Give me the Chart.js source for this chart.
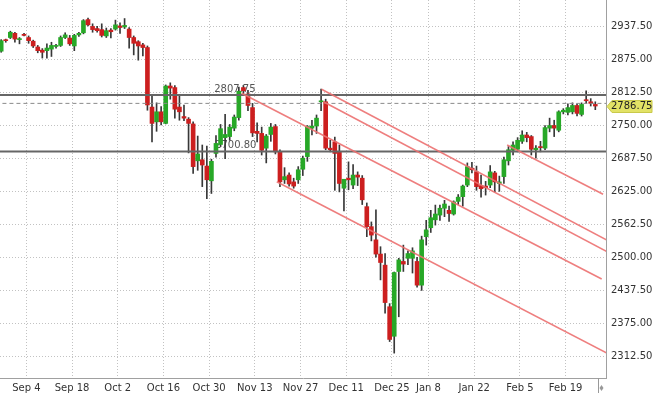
<!DOCTYPE html>
<html>
<head>
<meta charset="utf-8">
<script src="https://cdn.jsdelivr.net/npm/chart.js@4.4.0/dist/chart.umd.min.js"></script>
<style>
body { margin: 0; background: #fff; }
#wrap { width: 654px; height: 397px; position: relative; }
</style>
</head>
<body>
<div id="wrap"><canvas id="grafico"></canvas></div>
<script>
// velas diarias
const dates = ['Aug 27','Aug 28','Aug 29','Aug 30','Aug 31','Sep 3','Sep 4','Sep 5','Sep 6','Sep 7',
  'Sep 10','Sep 11','Sep 12','Sep 13','Sep 14','Sep 17','Sep 18','Sep 19','Sep 20','Sep 21',
  'Sep 24','Sep 25','Sep 26','Sep 27','Sep 28','Oct 1','Oct 2','Oct 3','Oct 4','Oct 5',
  'Oct 8','Oct 9','Oct 10','Oct 11','Oct 12','Oct 15','Oct 16','Oct 17','Oct 18','Oct 19',
  'Oct 22','Oct 23','Oct 24','Oct 25','Oct 26','Oct 29','Oct 30','Oct 31','Nov 1','Nov 2',
  'Nov 5','Nov 6','Nov 7','Nov 8','Nov 9','Nov 12','Nov 13','Nov 14','Nov 15','Nov 16',
  'Nov 19','Nov 20','Nov 21','Nov 22','Nov 23','Nov 26','Nov 27','Nov 28','Nov 29','Nov 30',
  'Dec 3','Dec 4','Dec 5','Dec 6','Dec 7','Dec 10','Dec 11','Dec 12','Dec 13','Dec 14',
  'Dec 17','Dec 18','Dec 19','Dec 20','Dec 21','Dec 24','Dec 26','Dec 27','Dec 28','Dec 31',
  'Jan 2','Jan 3','Jan 4','Jan 7','Jan 8','Jan 9','Jan 10','Jan 11','Jan 14','Jan 15',
  'Jan 16','Jan 17','Jan 18','Jan 21','Jan 22','Jan 23','Jan 24','Jan 25','Jan 28','Jan 29',
  'Jan 30','Jan 31','Feb 1','Feb 4','Feb 5','Feb 6','Feb 7','Feb 8','Feb 11','Feb 12',
  'Feb 13','Feb 14','Feb 15','Feb 18','Feb 19','Feb 20','Feb 21','Feb 22','Feb 25','Feb 26','Feb 27'];

const opens = [2891,2912,2917,2925,2913,2923,2917,2910,2899,2893,
  2892,2895,2900,2902,2917,2916,2901,2922,2926,2951,
  2938,2934,2932,2920,2931,2933,2939,2937,2933,2917,
  2909,2903,2898,2785,2757,2776,2754,2825,2822,2785,
  2767,2762,2753,2683,2685,2673,2645,2697,2714,2727,
  2729,2745,2765,2822,2810,2784,2739,2735,2707,2733,
  2748,2700,2647,2656,2643,2647,2667,2691,2745,2749,
  2795,2795,2707,2719,2699,2631,2650,2637,2656,2650,
  2596,2558,2533,2506,2485,2406,2350,2473,2492,2498,
  2498,2492,2447,2539,2556,2571,2580,2593,2589,2582,
  2606,2615,2637,2669,2662,2636,2635,2637,2660,2640,
  2653,2683,2703,2705,2720,2732,2729,2704,2710,2707,
  2745,2750,2741,2776,2775,2776,2788,2771,2799,2795,2790];

const highs = [2913,2914,2929,2927,2917,2925,2920,2912,2902,2896,
  2905,2908,2904,2920,2926,2921,2923,2927,2951,2954,
  2943,2938,2943,2935,2934,2950,2945,2953,2936,2920,
  2911,2906,2901,2808,2793,2786,2827,2831,2826,2806,
  2789,2765,2757,2730,2713,2711,2686,2731,2752,2771,
  2752,2770,2823,2826,2817,2792,2755,2747,2733,2754,
  2752,2704,2670,2660,2650,2672,2692,2750,2760,2770,
  2819,2800,2722,2728,2713,2648,2681,2676,2662,2655,
  2603,2567,2590,2520,2507,2412,2472,2498,2523,2512,
  2518,2500,2540,2570,2589,2599,2599,2608,2597,2607,
  2619,2637,2679,2680,2673,2656,2644,2674,2663,2654,
  2690,2710,2719,2727,2740,2737,2731,2712,2720,2750,
  2764,2760,2778,2782,2791,2793,2791,2793,2816,2801,2795];

const lows = [2889,2908,2915,2908,2905,2920,2906,2898,2888,2878,
  2878,2881,2897,2900,2915,2902,2892,2919,2924,2939,
  2927,2927,2918,2917,2916,2931,2925,2934,2897,2884,
  2874,2882,2779,2719,2739,2751,2753,2800,2764,2760,
  2759,2698,2659,2665,2634,2611,2621,2690,2710,2687,
  2722,2740,2760,2808,2778,2729,2719,2694,2679,2720,
  2696,2634,2640,2635,2631,2640,2655,2682,2732,2735,
  2778,2704,2700,2627,2624,2588,2628,2630,2636,2600,
  2539,2531,2500,2457,2394,2340,2318,2387,2473,2486,
  2470,2443,2437,2523,2547,2561,2570,2577,2568,2580,
  2600,2597,2634,2660,2627,2614,2618,2632,2624,2625,
  2640,2675,2694,2700,2716,2719,2694,2688,2700,2704,
  2738,2729,2738,2772,2770,2772,2768,2768,2792,2787,2780];

const closes = [2911,2911,2927,2914,2914,2921,2911,2901,2892,2889,
  2897,2902,2902,2917,2922,2905,2921,2925,2949,2941,
  2932,2930,2921,2930,2928,2941,2936,2940,2917,2906,
  2901,2898,2789,2754,2776,2757,2825,2821,2781,2776,
  2764,2754,2672,2696,2675,2647,2682,2716,2744,2733,
  2747,2766,2815,2816,2788,2736,2735,2703,2730,2747,
  2700,2643,2653,2639,2635,2666,2688,2748,2749,2764,
  2796,2707,2704,2697,2640,2648,2647,2656,2652,2609,
  2558,2542,2506,2490,2414,2344,2471,2495,2487,2507,
  2512,2447,2533,2552,2575,2582,2593,2601,2583,2605,
  2614,2635,2672,2666,2634,2630,2632,2662,2643,2643,
  2685,2704,2713,2722,2732,2727,2705,2707,2708,2746,
  2750,2745,2776,2779,2784,2788,2773,2790,2797,2792,2787];

// eixo x: posicao dos rotulos (indice da vela - 0.5)
const xTickIndex = [5.5, 15.5, 25.5, 35.5, 45.5, 55.5, 65.5, 75.5, 85.5, 93.5, 103.5, 113.5, 123.5];
const xTickLabels = ['Sep 4', 'Sep 18', 'Oct 2', 'Oct 16', 'Oct 30', 'Nov 13', 'Nov 27', 'Dec 11', 'Dec 25', 'Jan 8', 'Jan 22', 'Feb 5', 'Feb 19'];
const yTicks = [2312.5, 2375, 2437.5, 2500, 2562.5, 2625, 2687.5, 2750, 2812.5, 2875, 2937.5];

// niveis horizontais
const levelHigh = 2807.75;
const levelLow = 2700.80;
const prevClose = 2792;
const lastPrice = 2786.75;

// linhas de tendencia [indice, preco]
const trendA = [[52.6, 2811.1], [131.4, 2458.7]];
const trendB = [[70.1, 2818.7], [133.0, 2530.5]];
const trendC = [[70.5, 2795.2], [133.0, 2508.5]];
const trendD = [[60.3, 2643.3], [133.0, 2316.0]];
const trendE = [[110.7, 2713.0], [131.7, 2619.4]];

const xMin = -0.26, xMax = 132.34;
const yMin = 2270.8, yMax = 2988.2;

const colorUp = '#27a827';
const colorDown = '#cc1f1f';
const colorWick = '#383838';
const colorTrend = 'rgba(236,112,112,0.9)';
const fontAxis = { family: '"DejaVu Sans", Verdana, sans-serif', size: 10 };

const wickData = dates.map((d, i) => ({ x: i, y: [lows[i], highs[i]] }));
const bodyData = dates.map((d, i) => ({ x: i, y: [opens[i], closes[i]] }));
const bodyColors = dates.map((d, i) => closes[i] >= opens[i] ? colorUp : colorDown);

const toPts = (arr) => arr.map(p => ({ x: p[0], y: p[1] }));
const hLine = (v) => [{ x: xMin - 1, y: v }, { x: xMax + 1, y: v }];

const lineDs = (data, color, width, dash) => ({
    type: 'line',
    data: data,
    borderColor: color,
    borderWidth: width,
    borderDash: dash || [],
    pointRadius: 0,
    fill: false,
    tension: 0,
    order: 0
});

const overlay = {
    id: 'overlay',
    beforeDatasetsDraw(chart) {
        const ctx = chart.ctx, x = chart.scales.x, y = chart.scales.y;
        ctx.save();
        ctx.font = '10px "DejaVu Sans", sans-serif';
        ctx.fillStyle = '#555';
        ctx.textBaseline = 'bottom';
        ctx.textAlign = 'left';
        ctx.fillText('2807.75', x.getPixelForValue(46.6), y.getPixelForValue(levelHigh) - 1);
        ctx.fillText('2700.80', x.getPixelForValue(46.8), y.getPixelForValue(levelLow) - 1);
        ctx.restore();
    },
    afterDraw(chart) {
        const ctx = chart.ctx, y = chart.scales.y;
        const area = chart.chartArea;
        const py = Math.round(y.getPixelForValue(lastPrice)) + 0.5;
        const left = area.right + 1;
        ctx.save();
        ctx.fillStyle = '#e2e266';
        ctx.strokeStyle = '#c9c94a';
        ctx.beginPath();
        ctx.moveTo(left, py);
        ctx.lineTo(left + 5, py - 6);
        ctx.lineTo(652, py - 6);
        ctx.lineTo(652, py + 6);
        ctx.lineTo(left + 5, py + 6);
        ctx.closePath();
        ctx.fill();
        ctx.stroke();
        ctx.fillStyle = '#222';
        ctx.font = '10px "DejaVu Sans", sans-serif';
        ctx.textBaseline = 'middle';
        ctx.fillText('2786.75', area.right + 5, py);
        // marcador no canto inferior
        ctx.strokeStyle = '#999';
        ctx.lineWidth = 1;
        ctx.beginPath();
        ctx.moveTo(598.5, area.bottom);
        ctx.lineTo(598.5, area.bottom + 15);
        ctx.stroke();
        ctx.fillStyle = '#999';
        ctx.beginPath();
        ctx.moveTo(601.5, area.bottom + 7);
        ctx.lineTo(603.5, area.bottom + 10);
        ctx.lineTo(601.5, area.bottom + 13);
        ctx.lineTo(599.5, area.bottom + 10);
        ctx.closePath();
        ctx.fill();
        ctx.restore();
    }
};

const config = {
    type: 'bar',
    data: {
        datasets: [
            lineDs(toPts(trendA), colorTrend, 1.6),
            lineDs(toPts(trendB), colorTrend, 1.6),
            lineDs(toPts(trendC), colorTrend, 1.6),
            lineDs(toPts(trendD), colorTrend, 1.6),
            lineDs(toPts(trendE), colorTrend, 1.6),
            lineDs(hLine(levelHigh), '#666', 2),
            lineDs(hLine(levelLow), '#666', 2),
            lineDs(hLine(prevClose), '#8a8a8a', 1, [4, 3]),
            {
                type: 'bar',
                data: bodyData,
                backgroundColor: bodyColors,
                borderWidth: 0,
                barThickness: 4,
                minBarLength: 1,
                grouped: false,
                order: 2
            },
            {
                type: 'bar',
                data: wickData,
                backgroundColor: colorWick,
                borderWidth: 0,
                barThickness: 1,
                grouped: false,
                order: 3
            }
        ]
    },
    options: {
        responsive: true,
        maintainAspectRatio: false,
        animation: false,
        layout: { padding: 0 },
        plugins: { legend: { display: false }, tooltip: { enabled: false } },
        scales: {
            x: {
                type: 'linear',
                min: xMin,
                max: xMax,
                offset: false,
                grid: { color: '#c2c2c2', drawTicks: false, offset: false },
                border: { display: true, color: '#a0a0a0', dash: [1, 2] },
                ticks: {
                    autoSkip: false, maxRotation: 0, padding: 4, color: '#333', font: fontAxis,
                    callback: (v, i) => xTickLabels[i]
                },
                afterBuildTicks: (s) => { s.ticks = xTickIndex.map(v => ({ value: v })); },
                afterFit: (s) => { s.height = 19; s.paddingLeft = 0; s.paddingRight = 0; }
            },
            y: {
                position: 'right',
                min: yMin,
                max: yMax,
                grid: { color: '#c2c2c2', drawTicks: false },
                border: { display: true, color: '#a0a0a0', dash: [1, 2] },
                ticks: {
                    padding: 5, color: '#333', font: fontAxis,
                    callback: (v) => Number(v).toFixed(2)
                },
                afterBuildTicks: (s) => { s.ticks = yTicks.map(v => ({ value: v })); },
                afterFit: (s) => { s.width = 48; s.paddingTop = 0; s.paddingBottom = 0; }
            }
        }
    },
    plugins: [overlay]
};

new Chart(document.getElementById('grafico'), config);
</script>
</body>
</html>
